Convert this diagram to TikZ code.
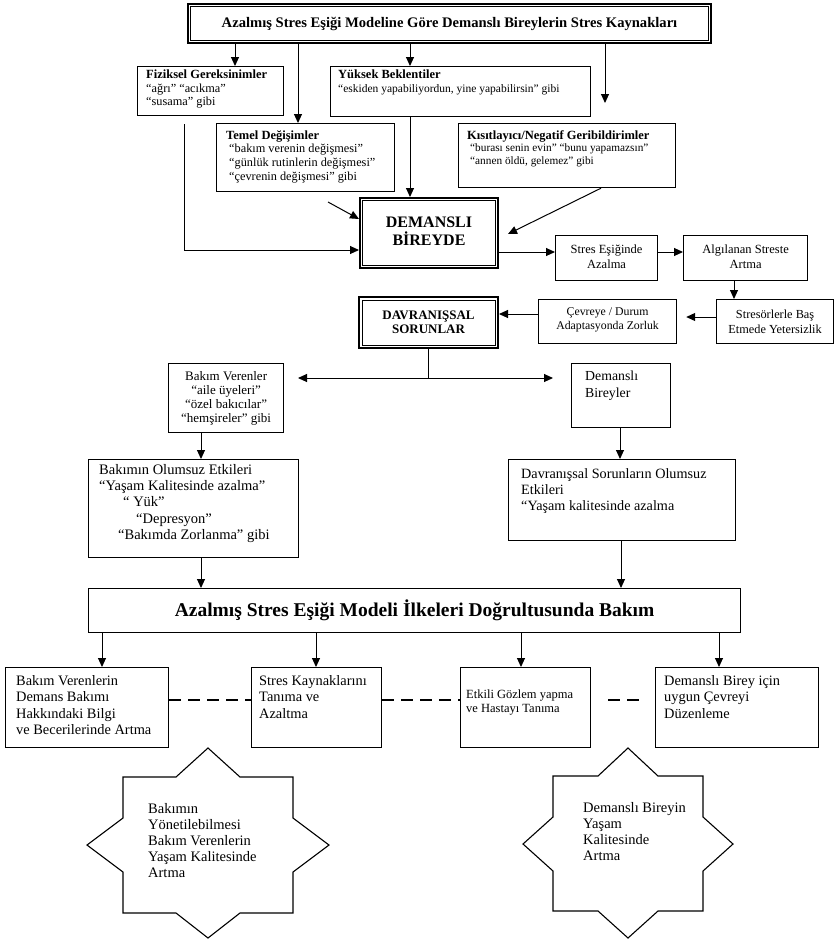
\documentclass[tikz,border=0pt]{standalone}
\usepackage{fontspec}
\setmainfont{Liberation Serif}
\usetikzlibrary{arrows.meta,calc}
% rectangle given by its two corners, as a named node
\newcommand\boxnode[6][]{\node[box,#1,minimum width={#5pt-#3pt},minimum height={#6pt-#4pt}] (#2) at (#3,#4) {};}
\newcommand\fs[2]{\fontsize{#1}{#2}\selectfont}
\begin{document}
\begin{tikzpicture}[x=1pt,y=-1pt,
  box/.style={draw,line width=1.2pt,anchor=north west,inner sep=0pt},
  dbl/.style={line width=2pt},
  arr/.style={line width=1pt,-{Triangle[length=9pt,width=8pt]}},
  ln/.style={line width=1pt},
  txt/.style={anchor=north west,inner sep=0pt,align=left},
  ctxt/.style={anchor=center,inner sep=0pt,align=center},
  dashline/.style={line width=2.8pt,dash pattern=on 12pt off 7pt},
  starline/.style={draw,line width=1.1pt,line join=miter}
]
\useasboundingbox (0,0) rectangle (835,940);

% ---- stress sources ----
\boxnode[dbl]{title}{187}{3}{710}{42}
\draw[line width=0.7pt] ($(title.north west)+(3.8,3.8)$) rectangle ($(title.south east)+(-3.8,-3.8)$);
\node[ctxt,font=\bfseries\fs{14.6}{17}] at (title.center) {Azalmış Stres Eşiği Modeline Göre Demanslı Bireylerin Stres Kaynakları};

\boxnode{fiz}{137}{66}{283}{115}
\node[txt,font=\fs{12.3}{13.5}] at (146,70) {\textbf{\fs{12.5}{13.5}Fiziksel Gereksinimler}\\“ağrı” “acıkma”\\“susama” gibi};

\boxnode{yuk}{330}{66}{590}{116}
\node[txt,font=\fs{11.5}{13.5}] at (338,70) {\textbf{\fs{12.5}{13.5}Yüksek Beklentiler}\\“eskiden yapabiliyordun, yine yapabilirsin” gibi};

\boxnode{tem}{216}{123}{394}{191}
\node[txt,font=\fs{12.3}{13.8}] at (226,130) {\textbf{\fs{12.5}{13.8}Temel Değişimler}\\\hspace*{3pt}“bakım verenin değişmesi”\\\hspace*{3pt}“günlük rutinlerin değişmesi”\\\hspace*{3pt}“çevrenin değişmesi” gibi};

\boxnode{kis}{458}{123}{675}{187}
\node[txt,font=\fs{11.3}{12.8}] at (467,130) {\textbf{\fs{12.5}{12.8}Kısıtlayıcı/Negatif Geribildirimler}\\\hspace*{3pt}“burası senin evin” “bunu yapamazsın”\\\hspace*{3pt}“annen öldü, gelemez” gibi};

% ---- central chain ----
\boxnode[dbl]{dem}{359}{197}{497}{267}
\draw[line width=0.7pt] ($(dem.north west)+(3.8,3.8)$) rectangle ($(dem.south east)+(-3.8,-3.8)$);
\node[ctxt,font=\bfseries\fs{16}{18.5}] at ($(dem.center)+(0,-2)$) {DEMANSLI\\BİREYDE};

\boxnode{st}{555}{235}{657}{280}
\node[ctxt,font=\fs{12.5}{14.5}] at ($(st.center)+(0,-1.5)$) {Stres Eşiğinde\\Azalma};
\boxnode{alg}{683}{235}{807}{280}
\node[ctxt,font=\fs{12.5}{14.5}] at ($(alg.center)+(0,-1.5)$) {Algılanan Streste\\Artma};
\boxnode{sb}{716}{299}{833}{343}
\node[ctxt,font=\fs{12.3}{14.5}] at (sb.center) {Stresörlerle Baş\\Etmede Yetersizlik};
\boxnode{cev}{538}{299}{676}{343}
\node[ctxt,font=\fs{11.8}{14.5}] at ($(cev.center)+(0,-1.5)$) {Çevreye / Durum\\Adaptasyonda Zorluk};

\boxnode[dbl]{dav}{358}{296}{497}{347}
\draw[line width=0.7pt] ($(dav.north west)+(4,4)$) rectangle ($(dav.south east)+(-4,-4)$);
\node[ctxt,font=\bfseries\fs{13}{14}] at (dav.center) {DAVRANIŞSAL\\SORUNLAR};

% ---- two branches ----
\boxnode{bv}{168}{363}{283}{432}
\node[ctxt,font=\fs{13}{14}] at (bv.center) {Bakım Verenler\\“aile üyeleri”\\“özel bakıcılar”\\“hemşireler” gibi};
\boxnode{db}{571}{363}{670}{427}
\node[txt,font=\fs{13.8}{17}] at (585,371) {Demanslı\\Bireyler};

\boxnode{bo}{88}{459}{298}{557}
\node[txt,font=\fs{14.5}{16.3}] at (99,464) {Bakımın Olumsuz Etkileri\\“Yaşam Kalitesinde azalma”\\\hspace*{24pt}“ Yük”\\\hspace*{37pt}“Depresyon”\\\hspace*{19pt}“Bakımda Zorlanma” gibi};
\boxnode{do}{508}{459}{735}{540}
\node[txt,font=\fs{14.2}{16.2}] at (521,468) {Davranışsal Sorunların Olumsuz\\Etkileri\\“Yaşam kalitesinde azalma};

\boxnode{big}{88}{588}{740}{632}
\node[ctxt,font=\bfseries\fs{19.5}{21}] at (big.center) {Azalmış Stres Eşiği Modeli İlkeleri Doğrultusunda Bakım};

% ---- care outcomes ----
\boxnode{b1}{5}{667}{168}{747}
\node[txt,font=\fs{14.4}{16.5}] at (16,675) {Bakım Verenlerin\\Demans Bakımı\\Hakkındaki Bilgi\\ve Becerilerinde Artma};
\boxnode{b2}{251}{667}{381}{747}
\node[txt,font=\fs{14.4}{16.5}] at (259,675) {Stres Kaynaklarını\\Tanıma ve\\Azaltma};
\boxnode{b3}{460}{667}{590}{747}
\node[txt,font=\fs{12.5}{14}] at (466,690) {Etkili Gözlem yapma\\ve Hastayı Tanıma};
\boxnode{b4}{655}{667}{818}{747}
\node[txt,font=\fs{14.4}{16.5}] at (664,675) {Demanslı Birey için\\uygun Çevreyi\\Düzenleme};

% ---- star-shaped results ----
\draw[starline] (208,748) -- (240,777) -- (293,777) -- (293,818) -- (329,845) -- (293,872)
  -- (293,913) -- (240,913) -- (208,938) -- (176,913) -- (123,913) -- (123,872)
  -- (87,845) -- (123,818) -- (123,777) -- (176,777) -- cycle;
\node[txt,font=\fs{14.5}{16}] (s1) at (148,803) {Bakımın\\Yönetilebilmesi\\Bakım Verenlerin\\Yaşam Kalitesinde\\Artma};

\draw[starline] (628,748) -- (658,776) -- (703,776) -- (703,817) -- (733,844) -- (703,871)
  -- (703,911) -- (658,911) -- (628,938) -- (598,911) -- (553,911) -- (553,871)
  -- (523,844) -- (553,817) -- (553,776) -- (598,776) -- cycle;
\node[txt,font=\fs{14.5}{16}] (s2) at (583,802) {Demanslı Bireyin\\Yaşam\\Kalitesinde\\Artma};

% ---- connectors ----
\coordinate (t4) at (605,103);
\coordinate (fl) at (184,124);
\coordinate (tl) at (328,202);
\coordinate (kd) at (508,234);
\draw[arr] (title.south -| 235,0) -- (fiz.north -| 235,0);
\draw[arr] (title.south -| 298,0) -- (tem.north -| 298,0);
\draw[arr] (title.south -| 410,0) -- (yuk.north -| 410,0);
\draw[arr] (title.south -| t4) -- (t4);
\draw[arr] (yuk.south -| 410,0) -- (dem.north -| 410,0);
\draw[arr] (tl) -- (dem.west |- 0,219);
\draw[arr] (fl) -- (fl |- 0,250) -- (dem.west |- 0,250);
\draw[arr] (kis.south -| 601,0) -- (kd);
\draw[arr] (dem.east |- 0,252) -- (st.west |- 0,252);
\draw[arr] (st.east |- 0,252) -- (alg.west |- 0,252);
\draw[arr] (alg.south -| 734,0) -- (sb.north -| 734,0);
\draw[arr] (sb.west |- 0,317) -- ($(cev.east |- 0,317)+(9,0)$);
\draw[arr] (cev.west |- 0,314) -- (dav.east |- 0,314);

\coordinate (split) at (428,378);
\coordinate (toL) at (298,378);
\coordinate (toR) at (553,378);
\draw[ln] (dav.south -| split) -- (split);
\draw[arr] (split) -- (toL);
\draw[arr] (split) -- (toR);

\draw[arr] (bv.south -| 201,0) -- (bo.north -| 201,0);
\draw[arr] (db.south -| 620,0) -- (do.north -| 620,0);
\draw[arr] (bo.south -| 201,0) -- (big.north -| 201,0);
\draw[arr] (do.south -| 621,0) -- (big.north -| 621,0);
\draw[arr] (big.south -| 102,0) -- (b1.north -| 102,0);
\draw[arr] (big.south -| 316,0) -- (b2.north -| 316,0);
\draw[arr] (big.south -| 521,0) -- (b3.north -| 521,0);
\draw[arr] (big.south -| 719,0) -- (b4.north -| 719,0);

\draw[dashline] (b1.east |- 0,700) -- (b2.west |- 0,700);
\draw[dashline] (b2.east |- 0,700) -- (b3.west |- 0,700);
\draw[dashline] ($(b3.east |- 0,700)+(17,0)$) -- ($(b4.west |- 0,700)+(-11,0)$);
\end{tikzpicture}
\end{document}
